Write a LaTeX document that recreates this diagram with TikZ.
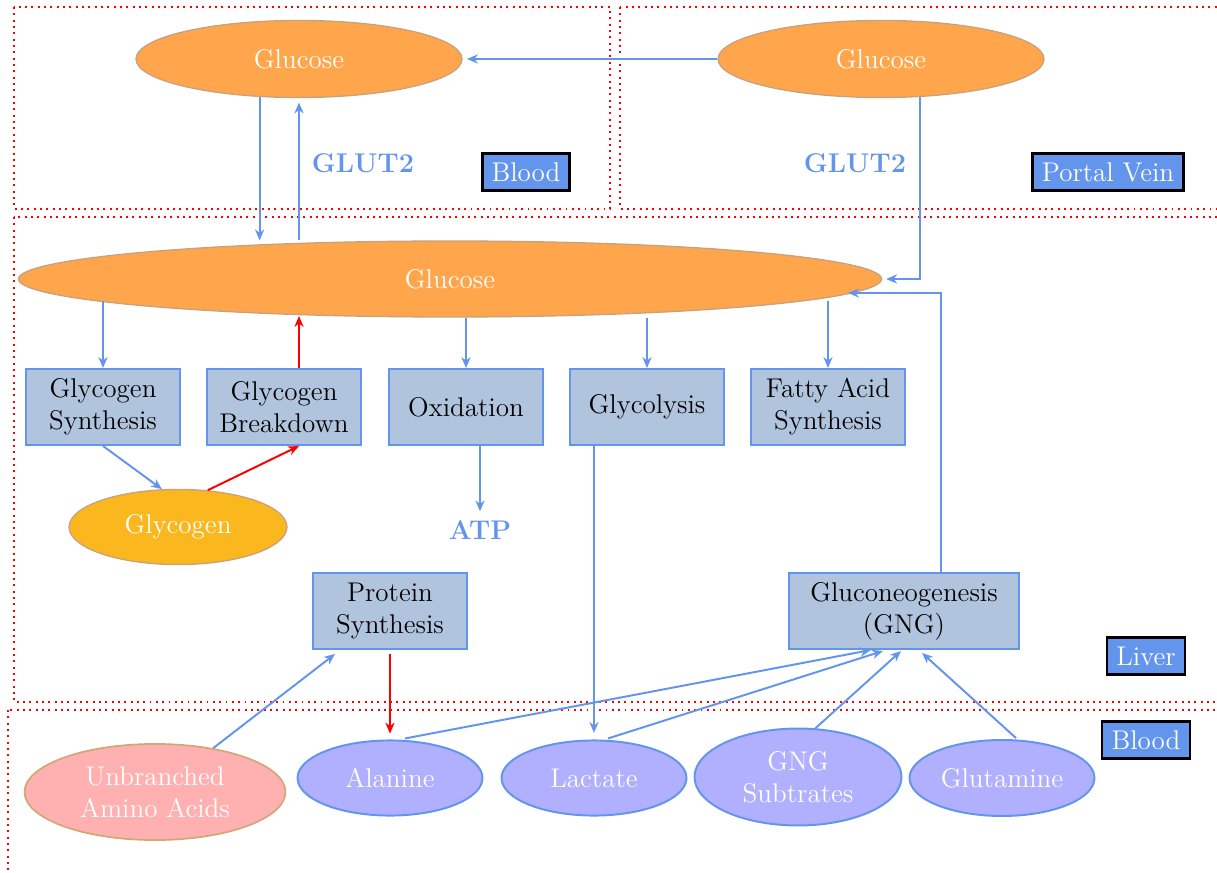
\documentclass[tikz,border=0pt]{standalone}
\usetikzlibrary{arrows.meta,shapes.geometric,calc}
\definecolor{cblue}{RGB}{100,149,237}
\definecolor{boxfill}{RGB}{176,196,222}
\definecolor{orangefill}{RGB}{255,166,77}
\definecolor{orangeborder}{RGB}{200,162,125}
\definecolor{glyfill}{RGB}{251,183,30}
\definecolor{pinkfill}{RGB}{255,176,176}
\definecolor{pinkborder}{RGB}{210,168,120}
\definecolor{lavfill}{RGB}{176,176,255}
\begin{document}
\begin{tikzpicture}[x=0.458pt,y=-0.458pt,
  every node/.style={font=\fontsize{12.4}{14.6}\selectfont},
  arr/.style={draw=cblue,line width=0.9pt,-{Stealth[length=5pt,width=4.2pt,inset=1.6pt]}},
  rarr/.style={arr,draw=red},
  region/.style={draw=red,dotted,line width=0.9pt},
  proc/.style={rectangle,draw=cblue,fill=boxfill,line width=0.9pt,minimum width=70.5pt,minimum height=34.8pt,align=center,inner sep=2pt,text=black},
  glu/.style={ellipse,fill=orangefill,draw=orangeborder,line width=0.6pt,text=white,inner sep=0pt},
  subs/.style={ellipse,fill=lavfill,draw=cblue,line width=0.9pt,text=white,align=center,inner sep=0pt},
  tag/.style={rectangle,fill=cblue,draw=black,line width=1.1pt,text=white,minimum height=17pt,inner sep=2pt},
  glut/.style={text=cblue,font=\fontsize{12.4}{14.6}\selectfont\bfseries}
]
\useasboundingbox (0,0) rectangle (1217,873);

% regions
\draw[region] (14,7) rectangle (610,209);
\draw[region] (620,7) rectangle (1226,209);
\draw[region] (14,217) rectangle (1226,702);
\draw[region] (8,710) rectangle (1226,884);

% glucose nodes
\node[glu,minimum width=149.3pt,minimum height=35.3pt] (G1) at (299,59) {Glucose};
\node[glu,minimum width=149.3pt,minimum height=35.3pt] (G2) at (881,59) {Glucose};
\node[glu,minimum width=395.3pt,minimum height=34.8pt] (G3) at (450,279) {Glucose};

% labels
\node[glut] (GL1) at (363,163) {GLUT2};
\node[glut] (GL2) at (855,163) {GLUT2};
\node[tag,minimum width=39.8pt] (B1) at (526,172) {Blood};
\node[tag,minimum width=69.2pt] (PV) at (1108,172) {Portal Vein};
\node[tag,minimum width=35.7pt] (LV) at (1146,656) {Liver};
\node[tag,minimum width=40.3pt] (B2) at (1146,740) {Blood};

% process boxes
\node[proc] (GS) at (103,407) {Glycogen\\Synthesis};
\node[proc] (GB) at (284,407) {Glycogen\\Breakdown};
\node[proc] (OX) at (466,407) {Oxidation};
\node[proc] (GC) at (647,407) {Glycolysis};
\node[proc] (FA) at (828,407) {Fatty Acid\\Synthesis};
\node[proc] (PS) at (390,611) {Protein\\Synthesis};
\node[proc,minimum width=105.3pt] (GNG) at (904,611) {Gluconeogenesis\\(GNG)};

\node[ellipse,fill=glyfill,draw=orangeborder,line width=0.6pt,text=white,inner sep=0pt,minimum width=99.8pt,minimum height=34.4pt] (GY) at (178,527) {Glycogen};
\node[glut,inner sep=4pt] (ATP) at (480,530) {ATP};

% substrates
\node[ellipse,fill=pinkfill,draw=pinkborder,line width=0.8pt,text=white,align=center,inner sep=0pt,minimum width=119.5pt,minimum height=44pt] (UAA) at (155,792) {Unbranched\\Amino Acids};
\node[subs,minimum width=84.7pt,minimum height=34.4pt] (Ala) at (390,778) {Alanine};
\node[subs,minimum width=84.7pt,minimum height=34.4pt] (Lac) at (594,778) {Lactate};
\node[subs,minimum width=94.8pt,minimum height=44.4pt] (GSub) at (798,777) {GNG\\Subtrates};
\node[subs,minimum width=84.7pt,minimum height=34.8pt] (Glu) at (1002,778) {Glutamine};

% border points on the big glucose ellipse
\coordinate (g3gs) at (103,301);
\coordinate (g3gb) at (299,316);
\coordinate (g3fa) at (828,301);
\coordinate (g3gng) at (848,293);

% connectors
\draw[arr,shorten >=2pt] (G2.west) -- (G1.east);
\draw[arr] (G1.-136) -- (G1.-136 |- G3.north);
\draw[arr,shorten >=2pt] (G1.south |- G3.north) -- (G1.south);
\draw[arr,shorten >=1.8pt] (G2.-44) |- (G3.east);

\draw[arr] (g3gs) -- (GS.north);
\draw[rarr] (GB.north -| G1.south) -- (g3gb);
\draw[arr] (OX.north |- G3.south) -- (OX.north);
\draw[arr] (GC.north |- G3.south) -- (GC.north);
\draw[arr] (g3fa) -- (FA.north);

\draw[arr] (GS.south) -- (GY.113);
\draw[rarr] (GY.51) -- (GB.south -| G1.south);
\draw[arr] (ATP.north |- OX.south) -- (ATP.north);

\draw[arr] ($(GNG.north)+(37,0)$) |- (g3gng);
\draw[arr,shorten >=3pt] (Lac.north |- GC.south) -- (Lac.north);
\draw[rarr,shorten <=1.8pt,shorten >=2.7pt] (PS.south) -- (Ala.north);
\draw[arr] (UAA.37) -- ($(PS.south west)+(23,4)$);

\draw[arr] ($(Ala.north)+(15,-1)$) -- ($(GNG.south)+(-33,0)$);
\draw[arr] ($(Lac.north)+(14,-1)$) -- ($(GNG.south)+(-21,1)$);
\draw[arr] ($(GSub.north)+(16,2)$) -- ($(GNG.south)+(-3,1)$);
\draw[arr] ($(Glu.north)+(14,-1)$) -- ($(GNG.south)+(18,3)$);
\end{tikzpicture}
\end{document}
